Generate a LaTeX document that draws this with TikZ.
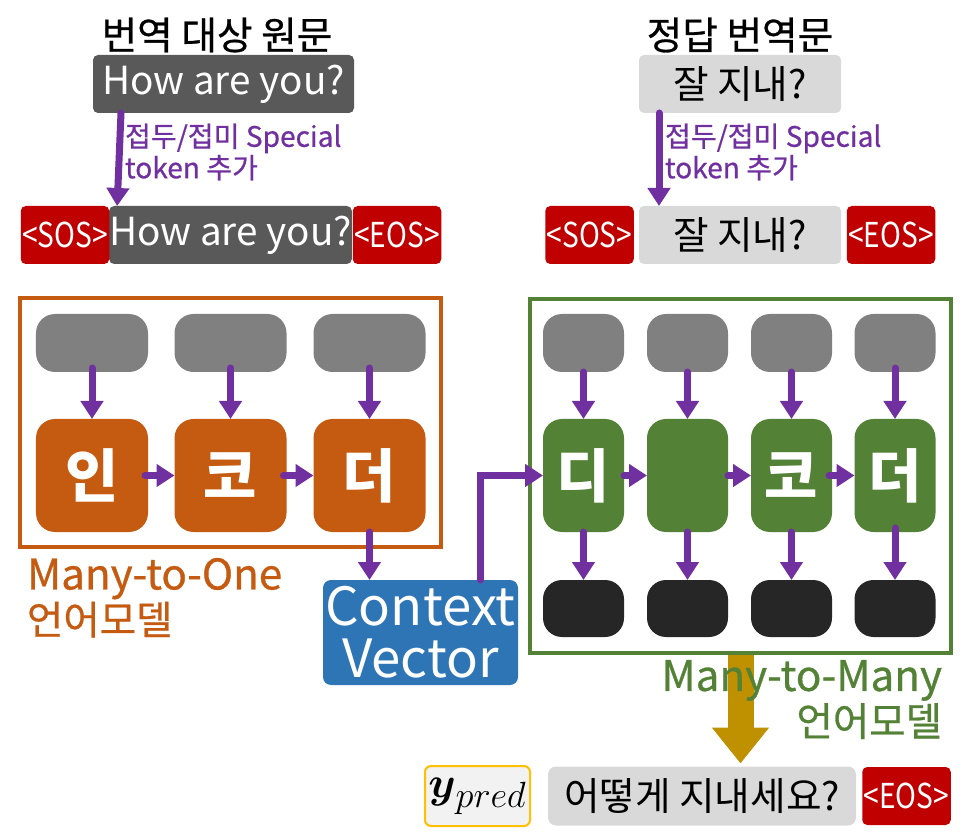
\documentclass[tikz,border=0pt]{standalone}
\usepackage{amsmath}
\usepackage{fontspec}
\setmainfont{Noto Sans CJK KR}
\newfontfamily\medfont{Noto Sans CJK KR}[FakeBold=0.7]
\usetikzlibrary{arrows.meta,positioning}
\definecolor{srcgray}{RGB}{89,89,89}
\definecolor{lightbox}{RGB}{217,217,217}
\definecolor{tokred}{RGB}{192,0,0}
\definecolor{flowpurple}{RGB}{112,48,160}
\definecolor{encorange}{RGB}{197,90,17}
\definecolor{decgreen}{RGB}{83,129,53}
\definecolor{ctxblue}{RGB}{46,117,182}
\definecolor{embgray}{RGB}{128,128,128}
\definecolor{outblack}{RGB}{38,38,38}
\definecolor{predgold}{RGB}{191,144,0}
\definecolor{prededge}{RGB}{255,192,0}
\definecolor{predfill}{RGB}{242,242,242}
\newcommand{\tok}[1]{\scalebox{0.82}[1]{#1}}

\begin{document}
\begin{tikzpicture}[every node/.style={inner sep=0pt,outer sep=0pt},
    titletext/.style={font=\fontsize{22}{24}\selectfont\medfont},
    sentbox/.style={rounded corners=0.1cm,minimum height=1.16cm,
      font=\fontsize{22}{24}\selectfont},
    tokbox/.style={rounded corners=0.1cm,fill=tokred,text=white,
      minimum width=1.77cm,minimum height=1.16cm,
      font=\fontsize{19.5}{20}\selectfont},
    embbox/.style={rounded corners=0.38cm,fill=embgray,minimum height=1.16cm},
    cellbox/.style={rounded corners=0.38cm,minimum height=2.26cm,text=white,
      font=\fontsize{33}{36}\selectfont\bfseries},
    outcell/.style={rounded corners=0.38cm,fill=outblack,
      minimum width=1.62cm,minimum height=1.14cm},
    frame/.style={draw,line width=0.08cm},
    flow/.style={draw=flowpurple,line width=0.14cm,line cap=round,
      -{Triangle[width=0.44cm,length=0.36cm]}},
    flowlabel/.style={text=flowpurple,align=left,
      font=\fontsize{16}{16}\selectfont\medfont},
    modellabel/.style={font=\fontsize{24}{25.6}\selectfont\medfont},
    goldflow/.style={draw=predgold,line width=0.52cm,
      -{Triangle[width=1.10cm,length=0.72cm]}}]
  \useasboundingbox (0,0) rectangle (19.42,16.76);

  % source sentence
  \node[titletext] (srctitle) at (4.34,16.06) {번역 대상 원문};
  \node[sentbox,fill=srcgray,text=white,minimum width=5.22cm]
    (src) at (4.47,15.08) {How are you?};
  \node[sentbox,fill=srcgray,text=white,minimum width=4.70cm]
    (srcmid) at (4.61,12.06) {How are you?};
  \node[tokbox] (sos1) at (1.30,12.06) {\tok{<SOS>}};
  \node[tokbox] (eos1) at (7.94,12.06) {\tok{<EOS>}};
  \draw[flow] ([xshift=0.56cm]src.south west) -- ([xshift=0.16cm]srcmid.north west)
    node[midway,right=0.12cm,yshift=0.15cm,flowlabel]{접두/접미 Special\\token 추가};

  % target sentence
  \node[titletext] (tgttitle) at (14.80,16.06) {정답 번역문};
  \node[sentbox,fill=lightbox,minimum width=4.04cm]
    (tgt) at (14.80,15.08) {잘 지내?};
  \node[sentbox,fill=lightbox,minimum width=4.04cm]
    (tgtmid) at (14.80,12.06) {잘 지내?};
  \node[tokbox] (sos2) at (11.79,12.06) {\tok{<SOS>}};
  \node[tokbox] (eos2) at (17.82,12.06) {\tok{<EOS>}};
  \draw[flow] ([xshift=0.40cm]tgt.south west) -- ([xshift=0.40cm]tgtmid.north west)
    node[midway,right=0.12cm,yshift=0.15cm,flowlabel]{접두/접미 Special\\token 추가};

  % encoder
  \node[frame,draw=encorange,minimum width=8.42cm,minimum height=4.98cm]
    (encbox) at (4.61,8.31) {};
  \node[embbox,minimum width=2.24cm] (embA1) at (1.84,9.90) {};
  \node[embbox,minimum width=2.24cm] (embA2) at (4.61,9.90) {};
  \node[embbox,minimum width=2.24cm] (embA3) at (7.39,9.90) {};
  \node[cellbox,fill=encorange,minimum width=2.24cm] (enc1) at (1.84,7.25) {인};
  \node[cellbox,fill=encorange,minimum width=2.24cm] (enc2) at (4.61,7.25) {코};
  \node[cellbox,fill=encorange,minimum width=2.24cm] (enc3) at (7.39,7.25) {더};
  \draw[flow] ([yshift=0.08cm]embA1.south) -- (enc1.north);
  \draw[flow] ([yshift=0.08cm]embA2.south) -- (enc2.north);
  \draw[flow] ([yshift=0.08cm]embA3.south) -- (enc3.north);
  \draw[flow] ([xshift=-0.06cm]enc1.east) -- (enc2.west);
  \draw[flow] ([xshift=-0.06cm]enc2.east) -- (enc3.west);
  \node[below right=0.22cm and 0.14cm of encbox.south west,align=left,
        text=encorange,modellabel]
    (enclabel) {Many-to-One\\{\fontsize{22.5}{25.6}\selectfont 언어모델}};

  % context vector
  \node[rounded corners=0.16cm,fill=ctxblue,text=white,align=center,
        minimum width=3.90cm,minimum height=2.10cm,
        font=\fontsize{30}{29.6}\selectfont]
    (ctx) at (8.41,4.11) {Context\\Vector};
  \draw[flow] (enc3.south) -- (enc3.south |- ctx.north);

  % decoder
  \node[frame,draw=decgreen,minimum width=8.42cm,minimum height=7.08cm]
    (decbox) at (14.81,7.24) {};
  \node[embbox,minimum width=1.62cm] (embB1) at (11.67,9.90) {};
  \node[embbox,minimum width=1.62cm] (embB2) at (13.75,9.90) {};
  \node[embbox,minimum width=1.62cm] (embB3) at (15.83,9.90) {};
  \node[embbox,minimum width=1.62cm] (embB4) at (17.90,9.90) {};
  \node[cellbox,fill=decgreen,minimum width=1.62cm] (dec1) at (11.67,7.25) {디};
  \node[cellbox,fill=decgreen,minimum width=1.62cm] (dec2) at (13.75,7.25) {};
  \node[cellbox,fill=decgreen,minimum width=1.62cm] (dec3) at (15.83,7.25) {코};
  \node[cellbox,fill=decgreen,minimum width=1.62cm] (dec4) at (17.90,7.25) {더};
  \node[outcell] (out1) at (11.67,4.59) {};
  \node[outcell] (out2) at (13.75,4.59) {};
  \node[outcell] (out3) at (15.83,4.59) {};
  \node[outcell] (out4) at (17.90,4.59) {};
  \draw[flow] ([xshift=3.14cm]ctx.north west) |- (dec1.west);
  \draw[flow] (embB1.south) -- (dec1.north);
  \draw[flow] (embB2.south) -- (dec2.north);
  \draw[flow] (embB3.south) -- (dec3.north);
  \draw[flow] ([yshift=0.08cm]embB4.south) -- (dec4.north);
  \draw[flow] (dec1.east) -- (dec2.west);
  \draw[flow] (dec2.east) -- (dec3.west);
  \draw[flow] ([xshift=-0.06cm]dec3.east) -- (dec4.west);
  \draw[flow] (dec1.south) -- (out1.north);
  \draw[flow] (dec2.south) -- (out2.north);
  \draw[flow] (dec3.south) -- (out3.north);
  \draw[flow] ([yshift=0.08cm]dec4.south) -- (out4.north);

  % prediction
  \node[rounded corners=0.12cm,fill=predfill,draw=prededge,line width=0.04cm,
        minimum width=2.10cm,minimum height=1.20cm,font=\fontsize{30}{30}\selectfont]
    (ypred) at (9.55,0.84) {$\boldsymbol{y}_{pred}$};
  \node[sentbox,fill=lightbox,minimum width=6.16cm,minimum height=1.18cm,
        rounded corners=0.16cm]
    (pred) at (14.04,0.84) {어떻게 지내세요?};
  \node[tokbox] (eos3) at (18.13,0.84) {\tok{<EOS>}};
  \draw[goldflow,shorten >=0.06cm] ([yshift=-0.04cm]decbox.south)
    -- (decbox.south |- pred.north);
  \node[below left=0.14cm and 0.18cm of decbox.south east,align=right,
        text=decgreen,modellabel]
    (declabel) {Many-to-Many\\{\fontsize{22.5}{25.6}\selectfont 언어모델}};
\end{tikzpicture}
\end{document}
